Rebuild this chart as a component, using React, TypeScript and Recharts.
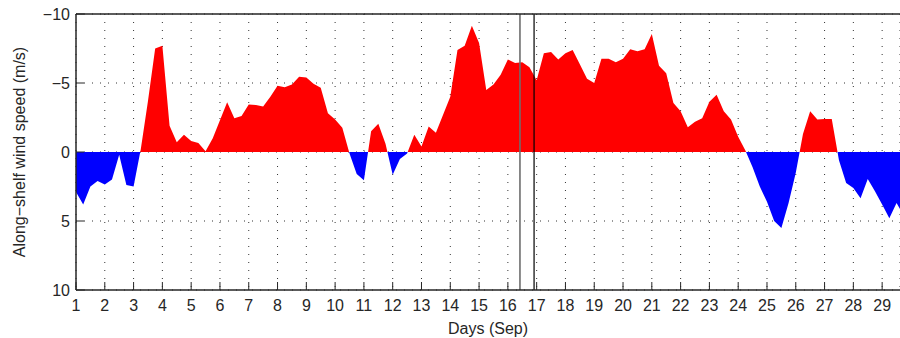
import React from 'react'
import { AreaChart, Area, XAxis, YAxis, CartesianGrid, ReferenceLine } from 'recharts'

// 6-hourly along-shelf wind, starting 1 Sep 00:00
const FIRST_DAY = 1
const STEP_DAYS = 0.25

const windSpeed = [
  2.9, 3.8, 2.5, 2.1, 2.35, 2.0, 0.2, 2.4,
  2.5, -0.2, -3.7, -7.5, -7.7, -1.9, -0.7, -1.25,
  -0.8, -0.65, -0.05, -1.0, -2.3, -3.6, -2.45, -2.6,
  -3.45, -3.4, -3.3, -4.0, -4.8, -4.7, -4.9, -5.45,
  -5.4, -4.95, -4.65, -2.8, -2.35, -1.75, 0.1, 1.6,
  2.05, -1.5, -2.05, -0.6, 1.65, 0.5, 0.1, -1.25,
  -0.4, -1.85, -1.4, -2.7, -4.0, -7.4, -7.7, -9.15,
  -7.9, -4.5, -4.9, -5.6, -6.7, -6.45, -6.5, -6.15,
  -5.2, -7.15, -7.25, -6.7, -7.15, -7.4, -6.35, -5.3,
  -5.0, -6.75, -6.75, -6.5, -6.75, -7.45, -7.3, -7.45,
  -8.55, -6.25, -5.7, -3.55, -2.95, -1.8, -2.2, -2.45,
  -3.65, -4.15, -2.95, -2.35, -1.1, -0.1, 1.1, 2.5,
  3.6, 5.0, 5.5, 3.7, 1.5, -1.3, -2.95, -2.35,
  -2.4, -2.4, 0.6, 2.25, 2.6, 3.35, 1.95, 2.85,
  3.8, 4.8, 3.7, 4.6,
]

const dayTicks = [
  1, 2, 3, 4, 5, 6, 7, 8, 9, 10, 11, 12, 13, 14, 15,
  16, 17, 18, 19, 20, 21, 22, 23, 24, 25, 26, 27, 28, 29,
]
const speedTicks = [-10, -5, 0, 5, 10]
const markerDays = [16.42, 16.91]
const markerColors = ['#6e6e6e', '#000000']

const data = windSpeed.map((v, i) => ({ day: FIRST_DAY + i * STEP_DAYS, speed: v }))

const minV = Math.min(...windSpeed)
const maxV = Math.max(...windSpeed)
const zeroOffset = (0 - minV) / (maxV - minV)

const INK = '#262626'
const FS = 16
const tickStyle = { fill: INK, fontSize: FS }

export default function App() {
  return (
    <div
      style={{
        position: 'fixed',
        left: 0,
        top: 0,
        width: 900,
        height: 338,
        overflow: 'hidden',
        background: '#fff',
        fontFamily: '"Liberation Sans", Arial, sans-serif',
      }}
    >
      <AreaChart width={900} height={338} data={data} margin={{ top: 13, right: 0, bottom: 0, left: 0 }}>
        <defs>
          <linearGradient id="windFill" x1="0" y1="0" x2="0" y2="1">
            <stop offset={zeroOffset} stopColor="#ff0000" />
            <stop offset={zeroOffset} stopColor="#0000ff" />
          </linearGradient>
        </defs>
        <CartesianGrid stroke="#333" strokeDasharray="1 7" />
        <XAxis
          dataKey="day"
          type="number"
          domain={[1, 29.62]}
          allowDataOverflow
          ticks={dayTicks}
          interval={0}
          height={48}
          tickSize={-8}
          tickMargin={18}
          tick={tickStyle}
          axisLine={{ stroke: INK, strokeWidth: 1.5 }}
          tickLine={{ stroke: INK }}
          label={{ value: 'Days (Sep)', position: 'insideBottom', offset: 4, fill: INK, fontSize: FS }}
        />
        <XAxis
          xAxisId="top"
          orientation="top"
          dataKey="day"
          type="number"
          domain={[1, 29.62]}
          allowDataOverflow
          ticks={dayTicks}
          interval={0}
          height={1}
          tickSize={-8}
          tick={false}
          axisLine={{ stroke: INK, strokeWidth: 1.5 }}
          tickLine={{ stroke: INK }}
        />
        <YAxis
          type="number"
          domain={[-10, 10]}
          reversed
          ticks={speedTicks}
          interval={0}
          width={76}
          tickSize={-8}
          tickMargin={14}
          tick={tickStyle}
          tickFormatter={(v: number) => String(v).replace('-', '\u2212')}
          axisLine={{ stroke: INK, strokeWidth: 1.5 }}
          tickLine={{ stroke: INK }}
          label={{
            value: 'Along\u2212shelf wind speed (m/s)',
            angle: -90,
            position: 'insideLeft',
            offset: 19,
            fill: INK,
            fontSize: FS,
            style: { textAnchor: 'middle' },
          }}
        />
        <Area
          type="linear"
          dataKey="speed"
          baseValue={0}
          stroke="none"
          fill="url(#windFill)"
          fillOpacity={1}
          isAnimationActive={false}
        />
        {markerDays.map((d, i) => (
          <ReferenceLine key={d} x={d} stroke={markerColors[i]} strokeWidth={i === 0 ? 1.6 : 1.2} />
        ))}
      </AreaChart>
    </div>
  )
}
